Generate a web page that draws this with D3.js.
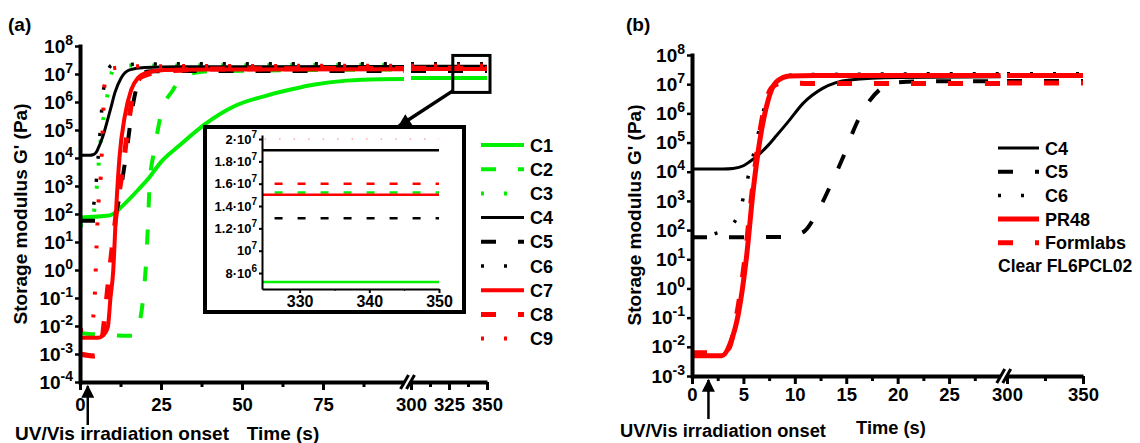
<!DOCTYPE html>
<html>
<head>
<meta charset="utf-8">
<script src="https://cdn.jsdelivr.net/npm/d3@7"></script>
<style>
  body { margin: 0; background: #fff; }
  svg { font-family: "Liberation Sans", Arial, sans-serif; font-weight: bold; }
</style>
</head>
<body>
<div id="container"></div>
<script>
// ---- data: [time (s), G' (Pa)] ----
const c1 = [[0,75],[9,88],[10.5,105],[12.8,180],[17.9,720],[21.5,2.1e3],[25.1,7.4e3],[30.2,2.5e4],[38.5,1.6e5],[47.3,6.8e5],[57.6,1.7e6],[67.9,3.3e6],[72,4.1e6],[82.3,5.8e6],[92.6,6.5e6],[100,6.6e6],[300,7.2e6],[350,7.2e6]];
const c2 = [[0,5.5e-3],[5,5e-3],[17,4.5e-3],[18.5,1.5e-2],[19.5,0.1],[20.5,3],[21,47],[21.5,1.26e3],[23,2e4],[25.1,4e5],[28.7,2.7e6],[31.4,7.5e6],[34.4,1.05e7],[40,1.25e7],[100,1.45e7],[300,1.52e7],[350,1.52e7]];
const c3 = [[0,40],[3,45],[4.2,100],[5.2,950],[5.9,1e4],[6.6,8e4],[7.5,4e5],[8.7,2.5e6],[9.8,1.1e7],[11,1.8e7],[15,2e7],[100,2.1e7],[300,2.1e7],[350,2.1e7]];
const c4 = [[0,1.25e4],[3,1.25e4],[4,1.3e4],[5,1.6e4],[5.6,2.2e4],[6.6,4.2e4],[7.4,8e4],[8.2,1.7e5],[9.5,6e5],[10.8,2.2e6],[12.7,7.2e6],[15.3,1.4e7],[20,1.7e7],[30,1.8e7],[100,1.85e7],[300,1.9e7],[350,1.9e7]];
const c5 = [[0,57],[8.9,58],[10.8,85],[12.1,3.6e2],[13.4,3e3],[14.7,3.2e4],[16,4.5e5],[17.3,2.8e6],[18.6,8e6],[19.9,1.15e7],[22,1.25e7],[30,1.27e7],[100,1.28e7],[300,1.29e7],[350,1.29e7]];
const c6 = [[0,55],[2.2,75],[3.85,1.45e2],[4.8,7e2],[5.3,3.9e3],[6.3,1.2e5],[6.8,7.6e5],[7.4,3.7e6],[8.9,1.6e7],[10,2.1e7],[30,2.3e7],[100,2.3e7],[300,2.3e7],[350,2.3e7]];
const c7 = [[0,3.8e-3],[5.5,3.8e-3],[7,4.5e-3],[8.6,9.3e-3],[9.4,0.1],[10.2,0.76],[11.2,180],[12.2,1.1e4],[13.8,3e5],[15.8,2.7e6],[18,7.5e6],[20,1.05e7],[26,1.38e7],[40,1.45e7],[100,1.48e7],[300,1.5e7],[350,1.5e7]];
const c8 = [[0,1e-3],[4.5,8.5e-4],[6.5,2e-3],[7.5,1.5e-2],[8.6,0.25],[10.2,12],[11.7,3e2],[13.3,4.9e3],[14.8,1.3e5],[16.4,1.8e6],[19,7.9e6],[25,1.2e7],[40,1.5e7],[100,1.58e7],[300,1.6e7],[350,1.6e7]];
const c9 = [[0,7e-3],[3.5,8e-3],[4.1,2.1e-2],[4.6,0.15],[5.1,6.8],[5.6,160],[6.4,2.2e3],[7,1e5],[7.6,4.7e6],[8.4,1.05e7],[10,1.6e7],[20,1.9e7],[100,1.97e7],[300,2e7],[350,2e7]];
const pr48 = [[0,4.9e-3],[2.9,4.9e-3],[3.7,1.26e-2],[4.5,0.13],[5.3,12],[5.95,2.3e3],[6.6,1.2e5],[7.4,2.8e6],[8.2,1.2e7],[9.5,1.9e7],[12,2e7],[30,2e7],[100,2e7],[300,2e7],[350,2e7]];
const formlabs = [[0,6.3e-3],[3,6.3e-3],[3.6,9e-3],[4.3,0.1],[5.1,8],[5.8,1.5e3],[6.4,8e4],[7.1,2e6],[8,9e6],[9,1.1e7],[12,1.05e7],[30,1.05e7],[100,1.05e7],[300,1.1e7],[350,1.1e7]];

const namesA = ["C1", "C2", "C3", "C4", "C5", "C6", "C7", "C8", "C9"];
const namesB = ["C4", "C5", "C6", "PR48", "Formlabs"];
const ticksA1 = [0, 25, 50, 75], minorA1 = [12.5, 37.5, 62.5, 87.5];
const ticksA2 = [300, 325, 350], minorA2 = [312.5, 337.5];
const ticksB1 = [0, 5, 10, 15, 20, 25], minorB1 = [2.5, 7.5, 12.5, 17.5, 22.5, 27.5];
const ticksB2 = [300, 350], minorB2 = [325];
const insetYTicks = [8e6, 1e7, 1.2e7, 1.4e7, 1.6e7, 1.8e7, 2e7];
const insetXTicks = [330, 340, 350], insetXMinor = [335, 345];
const onsetA = 2.4, onsetB = 1.6;

// ---- styles ----
const FONT = '"Liberation Sans", Arial, sans-serif';
const GREEN = '#00f000', RED = '#ff0000', BLACK = '#000000';
const DASH = '15,22', DOT = '3,20';
const seriesData = { C1: c1, C2: c2, C3: c3, C4: c4, C5: c5, C6: c6, C7: c7, C8: c8, C9: c9, PR48: pr48, Formlabs: formlabs };
const styles = {
  C1: { color: GREEN, dash: null, w: 4 },
  C2: { color: GREEN, dash: DASH, w: 4 },
  C3: { color: GREEN, dash: DOT, w: 4 },
  C4: { color: BLACK, dash: null, w: 3 },
  C5: { color: BLACK, dash: DASH, w: 4 },
  C6: { color: BLACK, dash: DOT, w: 3.5 },
  C7: { color: RED, dash: null, w: 4 },
  C8: { color: RED, dash: DASH, w: 5 },
  C9: { color: RED, dash: DOT, w: 4 },
  PR48: { color: RED, dash: null, w: 5 },
  Formlabs: { color: RED, dash: DASH, w: 5 },
};

const WIDTH = 1140, HEIGHT = 443;
const svg = d3.select('#container').append('svg')
  .attr('width', WIDTH).attr('height', HEIGHT);
const defs = svg.append('defs');
defs.append('marker')
  .attr('id', 'head').attr('viewBox', '0 0 10 10')
  .attr('refX', 9).attr('refY', 5)
  .attr('markerWidth', 16).attr('markerHeight', 13)
  .attr('markerUnits', 'userSpaceOnUse')
  .attr('orient', 'auto')
  .append('path').attr('d', 'M0,0 L10,5 L0,10 Z').attr('fill', '#000');

function powLabel(sel, exp, mant, supSize, rise) {
  sel.text(null);
  sel.append('tspan').text((mant ? mant + '·' : '') + '10');
  sel.append('tspan').attr('dy', -rise).attr('font-size', supSize).text(exp);
}

function styleAxis(a, size) {
  a.attr('font-family', FONT).attr('font-size', size).attr('font-weight', 'bold');
}

function drawPanel(opt) {
  const g = svg.append('g');
  const x1 = d3.scaleLinear().domain(opt.seg1).range(opt.r1);
  const x2 = d3.scaleLinear().domain(opt.seg2).range(opt.r2);
  const y = d3.scaleLog().domain(opt.yDom).range(opt.yRange);
  const x0 = opt.r1[0], yBase = opt.yRange[0];

  // lines
  const line1 = d3.line().x(d => x1(d[0])).y(d => y(d[1])).curve(d3.curveMonotoneX);
  const line2 = d3.line().x(d => x2(d[0])).y(d => y(d[1]));
  opt.names.forEach(n => {
    const s = styles[n], data = seriesData[n];
    [[line1, data.filter(d => d[0] <= opt.seg1[1])],
     [line2, data.filter(d => d[0] >= opt.seg2[0])]].forEach(([ln, pts]) => {
      g.append('path').datum(pts).attr('d', ln)
        .attr('fill', 'none').attr('stroke', s.color)
        .attr('stroke-width', s.w).attr('stroke-dasharray', s.dash)
        .attr('stroke-linejoin', 'round');
    });
  });

  if (opt.inset) opt.inset(g, x2, y);

  // y axis
  const exps = d3.range(Math.round(Math.log10(opt.yDom[0])), Math.round(Math.log10(opt.yDom[1])) + 1);
  g.append('g').attr('transform', `translate(${x0},0)`)
    .call(d3.axisLeft(y).tickValues(exps.map(e => Math.pow(10, e))).tickSize(5).tickSizeOuter(0).tickPadding(2))
    .call(a => styleAxis(a, 19))
    .call(a => a.select('.domain').attr('stroke-width', 4).attr('stroke-linecap', 'square'))
    .call(a => a.selectAll('.tick line').attr('stroke-width', 2.5))
    .selectAll('.tick text').each(function (d) {
      powLabel(d3.select(this), Math.round(Math.log10(d)), null, 14, 8);
    });

  // x axis, two segments with minor ticks
  [[x1, opt.ticks1, opt.minor1], [x2, opt.ticks2, opt.minor2]].forEach(([sc, tk, mn]) => {
    g.append('g').attr('transform', `translate(0,${yBase})`)
      .call(d3.axisBottom(sc).tickValues(tk).tickSize(8).tickSizeOuter(0).tickPadding(opt.xPad).tickFormat(d3.format('d')))
      .call(a => styleAxis(a, 18.5))
      .call(a => a.select('.domain').attr('stroke-width', 4))
      .call(a => a.selectAll('.tick line').attr('stroke-width', 3));
    g.append('g').attr('transform', `translate(0,${yBase})`)
      .call(d3.axisBottom(sc).tickValues(mn).tickSize(5).tickSizeOuter(0).tickFormat(''))
      .call(a => a.select('.domain').remove())
      .call(a => a.selectAll('.tick line').attr('stroke-width', 3));
  });

  // axis break marks
  const bx = (opt.r1[1] + opt.r2[0]) / 2;
  [-3, 3].forEach(dx => {
    g.append('line')
      .attr('x1', bx + dx - 4).attr('y1', yBase + 7)
      .attr('x2', bx + dx + 4).attr('y2', yBase - 7)
      .attr('stroke', '#000').attr('stroke-width', 3);
  });

  // irradiation onset arrow
  g.append('line')
    .attr('x1', x1(opt.onset)).attr('y1', yBase + 43)
    .attr('x2', x1(opt.onset)).attr('y2', yBase + 4)
    .attr('stroke', '#000').attr('stroke-width', 2.5)
    .attr('marker-end', 'url(#head)');

  // texts
  g.append('text').attr('x', opt.tag[0]).attr('y', opt.tag[1])
    .attr('font-size', 19).text(opt.tagText);
  g.append('text')
    .attr('transform', `translate(${opt.yTitle[0]},${opt.yTitle[1]}) rotate(-90)`)
    .attr('text-anchor', 'middle').attr('font-size', 19)
    .text("Storage modulus G' (Pa)");
  g.append('text').attr('x', opt.onsetText[0]).attr('y', opt.onsetText[1])
    .attr('font-size', opt.titleSize).text('UV/Vis irradiation onset');
  g.append('text').attr('x', opt.timeText[0]).attr('y', opt.timeText[1])
    .attr('text-anchor', 'middle').attr('font-size', opt.titleSize).text('Time (s)');

  // legend
  const lg = g.append('g');
  opt.names.forEach((n, i) => {
    const s = styles[n], yy = opt.legend.y + i * opt.legend.step;
    lg.append('line')
      .attr('x1', opt.legend.x).attr('x2', opt.legend.x + opt.legend.len)
      .attr('y1', yy).attr('y2', yy)
      .attr('stroke', s.color).attr('stroke-width', s.w)
      .attr('stroke-dasharray', s.dash);
    lg.append('text').attr('x', opt.legend.x + opt.legend.len + 6).attr('y', yy + 6.5)
      .attr('font-size', 18).text(n);
  });
  return { g, x1, x2, y };
}

// ---- inset of panel (a) ----
function insetA(g, x2, y) {
  const ix = d3.scaleLinear().domain([324.6, 350]).range([262, 439]);
  const iy = d3.scaleLinear().domain([6.57e6, 2.036e7]).range([289, 135]);

  // marker square on main plot
  g.append('rect')
    .attr('x', x2(327.5)).attr('y', y(4.6e7))
    .attr('width', x2(350) - x2(327.5) + 3).attr('height', y(2.2e6) - y(4.6e7))
    .attr('fill', 'none').attr('stroke', '#000').attr('stroke-width', 3);
  g.append('line')
    .attr('x1', x2(328)).attr('y1', y(2.6e6))
    .attr('x2', 399).attr('y2', 126)
    .attr('stroke', '#000').attr('stroke-width', 3.5)
    .attr('marker-end', 'url(#head)');

  g.append('rect').attr('x', 205).attr('y', 127).attr('width', 259).attr('height', 185)
    .attr('fill', '#fff').attr('stroke', '#000').attr('stroke-width', 4);

  defs.append('clipPath').attr('id', 'insetClip')
    .append('rect').attr('x', 262).attr('y', 135).attr('width', 177).attr('height', 154);

  const ln = d3.line().x(d => ix(d[0])).y(d => iy(d[1]));
  const lines = g.append('g').attr('clip-path', 'url(#insetClip)');
  namesA.forEach(n => {
    const s = styles[n];
    const dotted = s.dash === DOT;
    lines.append('path').datum(seriesData[n].filter(d => d[0] >= 300))
      .attr('d', ln).attr('fill', 'none').attr('stroke', s.color)
      .attr('stroke-width', dotted ? 1.5 : 2.5)
      .attr('stroke-opacity', dotted ? 0.35 : 1)
      .attr('stroke-dasharray', s.dash === DASH ? '8,15' : (dotted ? '1.5,13' : null));
  });

  g.append('g').attr('transform', 'translate(262,0)')
    .call(d3.axisLeft(iy).tickValues(insetYTicks).tickSize(3).tickSizeOuter(0).tickPadding(2))
    .call(a => styleAxis(a, 13))
    .call(a => a.select('.domain').attr('stroke-width', 2))
    .call(a => a.selectAll('.tick line').attr('stroke-width', 2))
    .selectAll('.tick text').each(function (d) {
      const e = Math.floor(Math.log10(d) + 1e-9);
      const m = +(d / Math.pow(10, e)).toFixed(1);
      powLabel(d3.select(this), e, m === 1 ? null : m, 10, 6);
    });
  g.append('g').attr('transform', 'translate(0,289)')
    .call(d3.axisBottom(ix).tickValues(insetXTicks).tickSize(4).tickSizeOuter(0).tickPadding(3).tickFormat(d3.format('d')))
    .call(a => styleAxis(a, 16))
    .call(a => a.select('.domain').attr('stroke-width', 2))
    .call(a => a.selectAll('.tick line').attr('stroke-width', 2));
  g.append('g').attr('transform', 'translate(0,289)')
    .call(d3.axisBottom(ix).tickValues(insetXMinor).tickSize(2).tickSizeOuter(0).tickFormat(''))
    .call(a => a.select('.domain').remove());
}

drawPanel({
  names: namesA,
  seg1: [0, 100], r1: [80, 404],
  seg2: [300, 350], r2: [411, 487],
  yDom: [1e-4, 1e8], yRange: [382, 46],
  ticks1: ticksA1, minor1: minorA1, ticks2: ticksA2, minor2: minorA2,
  xPad: 8, onset: onsetA,
  tag: [8, 31], tagText: '(a)',
  yTitle: [27, 214],
  onsetText: [15, 440], titleSize: 19,
  timeText: [283, 440],
  legend: { x: 481, y: 145, step: 24.2, len: 43 },
  inset: insetA,
});

drawPanel({
  names: namesB,
  seg1: [0, 30], r1: [692, 1000.5],
  seg2: [300, 350], r2: [1007, 1083],
  yDom: [1e-3, 1e8], yRange: [376, 55],
  ticks1: ticksB1, minor1: minorB1, ticks2: ticksB2, minor2: minorB2,
  xPad: 4, onset: onsetB,
  tag: [626, 31], tagText: '(b)',
  yTitle: [641, 215],
  onsetText: [620, 437], titleSize: 18.3,
  timeText: [891, 434],
  legend: { x: 998, y: 148, step: 23.7, len: 41 },
});

// second line of the Formlabs legend entry
svg.append('text').attr('x', 998).attr('y', 272)
  .attr('font-size', 17.5).text('Clear FL6PCL02');
</script>
</body>
</html>
